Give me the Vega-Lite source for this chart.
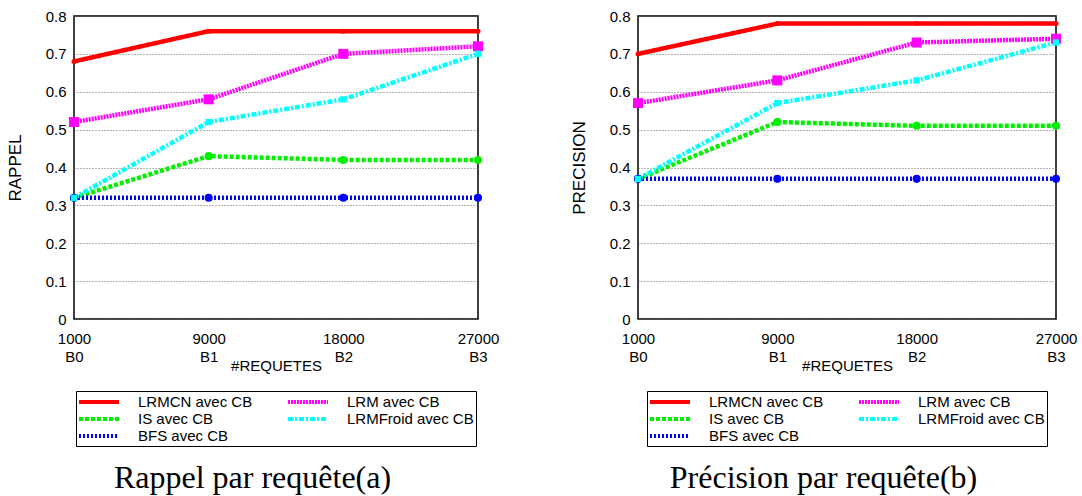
{
  "$schema": "https://vega.github.io/schema/vega-lite/v6.json",
  "background": "white",
  "padding": {"top": 8, "left": 5, "right": 3, "bottom": 0},
  "datasets": {
    "rappel": [
      {"serie": "LRMCN avec CB", "requetes": "1000", "valeur": 0.68},
      {"serie": "LRMCN avec CB", "requetes": "9000", "valeur": 0.76},
      {"serie": "LRMCN avec CB", "requetes": "18000", "valeur": 0.76},
      {"serie": "LRMCN avec CB", "requetes": "27000", "valeur": 0.76},
      {"serie": "IS avec CB", "requetes": "1000", "valeur": 0.32},
      {"serie": "IS avec CB", "requetes": "9000", "valeur": 0.43},
      {"serie": "IS avec CB", "requetes": "18000", "valeur": 0.42},
      {"serie": "IS avec CB", "requetes": "27000", "valeur": 0.42},
      {"serie": "BFS avec CB", "requetes": "1000", "valeur": 0.32},
      {"serie": "BFS avec CB", "requetes": "9000", "valeur": 0.32},
      {"serie": "BFS avec CB", "requetes": "18000", "valeur": 0.32},
      {"serie": "BFS avec CB", "requetes": "27000", "valeur": 0.32},
      {"serie": "LRM avec CB", "requetes": "1000", "valeur": 0.52},
      {"serie": "LRM avec CB", "requetes": "9000", "valeur": 0.58},
      {"serie": "LRM avec CB", "requetes": "18000", "valeur": 0.70},
      {"serie": "LRM avec CB", "requetes": "27000", "valeur": 0.72},
      {"serie": "LRMFroid avec CB", "requetes": "1000", "valeur": 0.32},
      {"serie": "LRMFroid avec CB", "requetes": "9000", "valeur": 0.52},
      {"serie": "LRMFroid avec CB", "requetes": "18000", "valeur": 0.58},
      {"serie": "LRMFroid avec CB", "requetes": "27000", "valeur": 0.70}
    ],
    "precision": [
      {"serie": "LRMCN avec CB", "requetes": "1000", "valeur": 0.70},
      {"serie": "LRMCN avec CB", "requetes": "9000", "valeur": 0.78},
      {"serie": "LRMCN avec CB", "requetes": "18000", "valeur": 0.78},
      {"serie": "LRMCN avec CB", "requetes": "27000", "valeur": 0.78},
      {"serie": "IS avec CB", "requetes": "1000", "valeur": 0.37},
      {"serie": "IS avec CB", "requetes": "9000", "valeur": 0.52},
      {"serie": "IS avec CB", "requetes": "18000", "valeur": 0.51},
      {"serie": "IS avec CB", "requetes": "27000", "valeur": 0.51},
      {"serie": "BFS avec CB", "requetes": "1000", "valeur": 0.37},
      {"serie": "BFS avec CB", "requetes": "9000", "valeur": 0.37},
      {"serie": "BFS avec CB", "requetes": "18000", "valeur": 0.37},
      {"serie": "BFS avec CB", "requetes": "27000", "valeur": 0.37},
      {"serie": "LRM avec CB", "requetes": "1000", "valeur": 0.57},
      {"serie": "LRM avec CB", "requetes": "9000", "valeur": 0.63},
      {"serie": "LRM avec CB", "requetes": "18000", "valeur": 0.73},
      {"serie": "LRM avec CB", "requetes": "27000", "valeur": 0.74},
      {"serie": "LRMFroid avec CB", "requetes": "1000", "valeur": 0.37},
      {"serie": "LRMFroid avec CB", "requetes": "9000", "valeur": 0.57},
      {"serie": "LRMFroid avec CB", "requetes": "18000", "valeur": 0.63},
      {"serie": "LRMFroid avec CB", "requetes": "27000", "valeur": 0.73}
    ]
  },
  "spacing": 69,
  "resolve": {"legend": {"color": "independent", "strokeDash": "independent"}},
  "hconcat": [
    {
      "width": 404,
      "height": 303,
      "data": {"name": "rappel"},
      "title": {"text": "Rappel par requête(a)", "orient": "bottom"},
      "encoding": {
        "x": {"field": "requetes", "type": "ordinal",
              "scale": {"type": "point", "padding": 0, "domain": ["1000", "9000", "18000", "27000"]},
              "axis": {"title": "#REQUETES", "labelAngle": 0,
                       "labelExpr": "[datum.label, 'B' + indexof(['1000','9000','18000','27000'], datum.value)]"}},
        "y": {"field": "valeur", "type": "quantitative",
              "scale": {"domain": [0, 0.8]},
              "axis": {"title": "RAPPEL", "values": [0, 0.1, 0.2, 0.3, 0.4, 0.5, 0.6, 0.7, 0.8],
                       "labelExpr": "datum.value == 0 ? '0' : format(datum.value, '.1f')"}}
      },
      "layer": [
        {"mark": {"type": "line", "strokeWidth": 4.5, "strokeCap": "butt"},
         "encoding": {
           "color": {"field": "serie", "type": "nominal",
                     "legend": {"title": null, "symbolOffset": 12, "labelOffset": 30},
                     "scale": {"domain": ["LRMCN avec CB", "LRM avec CB", "IS avec CB", "LRMFroid avec CB", "BFS avec CB"],
                               "range": ["#ff0000", "#ff00ff", "#00f000", "#00ffff", "#0000ff"]}},
           "strokeDash": {"field": "serie", "type": "nominal",
                          "legend": {"title": null, "symbolOffset": 12, "labelOffset": 30},
                          "scale": {"domain": ["LRMCN avec CB", "LRM avec CB", "IS avec CB", "LRMFroid avec CB", "BFS avec CB"],
                                    "range": [[1, 0], [2, 1], [4, 2], [5, 2, 2, 2], [2, 2]]}}
         }},
        {"mark": {"type": "point", "filled": true, "opacity": 1},
         "encoding": {
           "fill": {"field": "serie", "type": "nominal", "legend": null,
                    "scale": {"domain": ["LRMCN avec CB", "LRM avec CB", "IS avec CB", "LRMFroid avec CB", "BFS avec CB"],
                              "range": ["#ff0000", "#ff00ff", "#00f000", "#00ffff", "#0000ff"]}},
           "shape": {"field": "serie", "type": "nominal", "legend": null,
                     "scale": {"domain": ["LRMCN avec CB", "LRM avec CB", "IS avec CB", "LRMFroid avec CB", "BFS avec CB"],
                               "range": ["circle", "square", "circle", "square", "circle"]}},
           "size": {"field": "serie", "type": "nominal", "legend": null,
                    "scale": {"type": "ordinal", "domain": ["LRMCN avec CB", "LRM avec CB", "IS avec CB", "LRMFroid avec CB", "BFS avec CB"],
                              "range": [25, 100, 65, 40, 65]}}
         }}
      ]
    },
    {
      "width": 418,
      "height": 303,
      "data": {"name": "precision"},
      "title": {"text": "Précision par requête(b)", "orient": "bottom"},
      "encoding": {
        "x": {"field": "requetes", "type": "ordinal",
              "scale": {"type": "point", "padding": 0, "domain": ["1000", "9000", "18000", "27000"]},
              "axis": {"title": "#REQUETES", "labelAngle": 0,
                       "labelExpr": "[datum.label, 'B' + indexof(['1000','9000','18000','27000'], datum.value)]"}},
        "y": {"field": "valeur", "type": "quantitative",
              "scale": {"domain": [0, 0.8]},
              "axis": {"title": "PRECISION", "values": [0, 0.1, 0.2, 0.3, 0.4, 0.5, 0.6, 0.7, 0.8],
                       "labelExpr": "datum.value == 0 ? '0' : format(datum.value, '.1f')"}}
      },
      "layer": [
        {"mark": {"type": "line", "strokeWidth": 4.5, "strokeCap": "butt"},
         "encoding": {
           "color": {"field": "serie", "type": "nominal",
                     "legend": {"title": null, "symbolOffset": 12, "labelOffset": 30},
                     "scale": {"domain": ["LRMCN avec CB", "LRM avec CB", "IS avec CB", "LRMFroid avec CB", "BFS avec CB"],
                               "range": ["#ff0000", "#ff00ff", "#00f000", "#00ffff", "#0000ff"]}},
           "strokeDash": {"field": "serie", "type": "nominal",
                          "legend": {"title": null, "symbolOffset": 12, "labelOffset": 30},
                          "scale": {"domain": ["LRMCN avec CB", "LRM avec CB", "IS avec CB", "LRMFroid avec CB", "BFS avec CB"],
                                    "range": [[1, 0], [2, 1], [4, 2], [5, 2, 2, 2], [2, 2]]}}
         }},
        {"mark": {"type": "point", "filled": true, "opacity": 1},
         "encoding": {
           "fill": {"field": "serie", "type": "nominal", "legend": null,
                    "scale": {"domain": ["LRMCN avec CB", "LRM avec CB", "IS avec CB", "LRMFroid avec CB", "BFS avec CB"],
                              "range": ["#ff0000", "#ff00ff", "#00f000", "#00ffff", "#0000ff"]}},
           "shape": {"field": "serie", "type": "nominal", "legend": null,
                     "scale": {"domain": ["LRMCN avec CB", "LRM avec CB", "IS avec CB", "LRMFroid avec CB", "BFS avec CB"],
                               "range": ["circle", "square", "circle", "square", "circle"]}},
           "size": {"field": "serie", "type": "nominal", "legend": null,
                    "scale": {"type": "ordinal", "domain": ["LRMCN avec CB", "LRM avec CB", "IS avec CB", "LRMFroid avec CB", "BFS avec CB"],
                              "range": [25, 100, 65, 40, 65]}}
         }}
      ]
    }
  ],
  "config": {
    "font": "Liberation Sans",
    "view": {"stroke": "black", "strokeWidth": 1.5},
    "axis": {
      "labelFont": "Liberation Sans",
      "labelFontSize": 15,
      "labelColor": "black",
      "labelLineHeight": 18,
      "labelPadding": 12,
      "titleFont": "Liberation Sans",
      "titleFontSize": 15,
      "titleFontWeight": "normal",
      "titleColor": "black",
      "gridColor": "#666666",
      "gridDash": [1, 2],
      "gridOpacity": 1,
      "gridWidth": 1,
      "domain": false,
      "ticks": false
    },
    "axisX": {"titlePadding": -6},
    "axisY": {"titleFontSize": 17, "titlePadding": 21, "labelPadding": 8},
    "legend": {
      "orient": "bottom",
      "layout": {"bottom": {"anchor": "middle"}},
      "columns": 2,
      "labelFont": "Liberation Sans",
      "labelFontSize": 15,
      "labelColor": "black",
      "symbolType": "M-2.86,0H2.86",
      "symbolSize": 196,
      "symbolStrokeWidth": 4,
      "strokeColor": "black",
      "padding": 2,
      "rowPadding": 0,
      "columnPadding": 26
    },
    "title": {
      "font": "Liberation Serif",
      "fontSize": 32,
      "fontWeight": "normal",
      "color": "black",
      "offset": 16,
      "frame": "bounds"
    }
  }
}
